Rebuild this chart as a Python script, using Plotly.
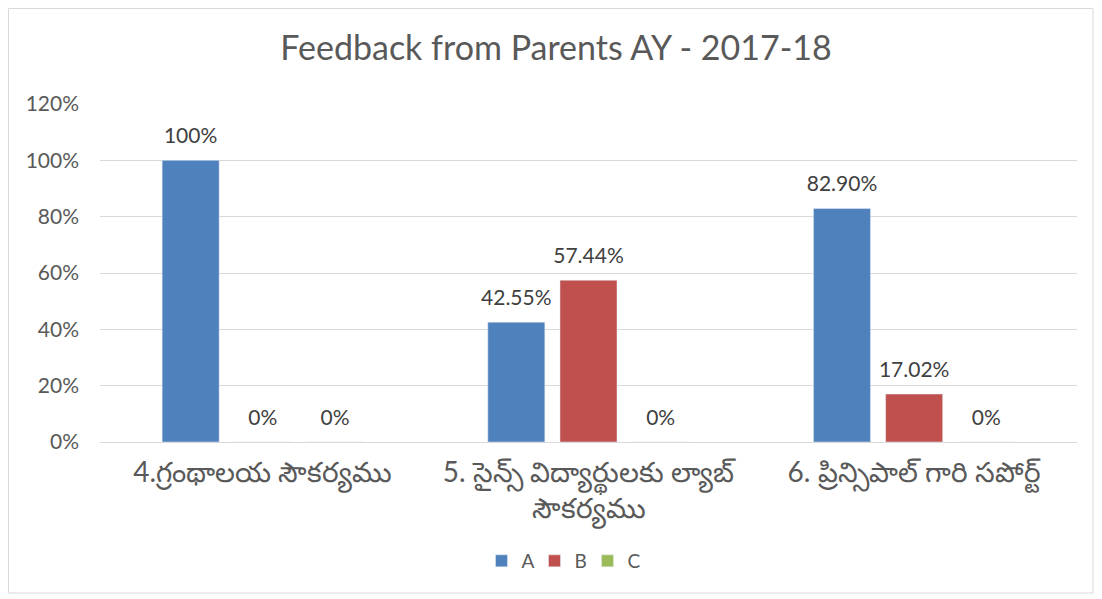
import plotly.graph_objects as go

categories = ["4.గ్రంథాలయ సౌకర్యము",
              "5. సైన్స్ విద్యార్థులకు ల్యాబ్<br>సౌకర్యము",
              "6. ప్రిన్సిపాల్ గారి సపోర్ట్"]
series_names = ["A", "B", "C"]
values_a = [1.00, 0.4255, 0.8290]
values_b = [0.0, 0.5744, 0.1702]
values_c = [0.0, 0.0, 0.0]
labels_a = ["100%", "42.55%", "82.90%"]
labels_b = ["0%", "57.44%", "17.02%"]
labels_c = ["0%", "0%", "0%"]
colors = ["#4F81BD", "#C0504D", "#9BBB59"]
y_ticks = [0, 0.2, 0.4, 0.6, 0.8, 1.0, 1.2]
y_tick_labels = ["0%", "20%", "40%", "60%", "80%", "100%", "120%"]

FONT = "Lato, 'Noto Sans', sans-serif"
GAP = 0.335

fig = go.Figure()
for name, vals, col in zip(series_names, [values_a, values_b, values_c], colors):
    fig.add_trace(go.Bar(
        x=categories, y=vals, name=name, marker_color=col,
        offsetgroup=name, hoverinfo="skip",
    ))
for name, vals, labs in zip(series_names, [values_a, values_b, values_c],
                            [labels_a, labels_b, labels_c]):
    fig.add_trace(go.Scatter(
        x=categories, y=vals, text=labs, mode="text+markers",
        marker=dict(size=18, opacity=0), offsetgroup=name,
        textposition="top center", showlegend=False, cliponaxis=False,
        textfont=dict(size=21, color="#404040", family=FONT), hoverinfo="skip",
    ))

W, H = 1094, 591
L, R, T, B = 92, 25, 96, 157
pw, ph = W - L - R, H - T - B

fig.update_layout(
    width=W, height=H,
    margin=dict(l=L, r=R, t=T, b=B),
    paper_bgcolor="white", plot_bgcolor="white",
    font=dict(family=FONT, color="#595959", size=21),
    title=dict(text="Feedback from Parents AY - 2017-18", x=(556 - 8) / W, xanchor="center",
               y=1 - 40 / H, yanchor="middle",
               font=dict(size=34, color="#595959", family=FONT)),
    barmode="group", bargap=GAP, bargroupgap=0.21,
    scattermode="group", scattergap=GAP,
    showlegend=True,
    legend=dict(orientation="h", x=(553 - L) / pw, xanchor="center",
                y=(T + ph - 553) / ph, yanchor="middle",
                font=dict(size=19, color="#595959", family=FONT),
                entrywidth=8, entrywidthmode="pixels", itemwidth=30,
                traceorder="normal"),
    yaxis=dict(range=[0, 1.2], tickvals=y_ticks, ticktext=y_tick_labels,
               showgrid=True, gridcolor="#D9D9D9", gridwidth=1,
               zeroline=False, showline=False, ticks="", ticklabelstandoff=20,
               tickfont=dict(size=21, color="#595959", family=FONT)),
    xaxis=dict(showline=True, linecolor="#D9D9D9", linewidth=1, ticks="",
               ticklabelstandoff=5,
               tickfont=dict(size=28, color="#595959", family=FONT)),
    shapes=[dict(type="rect", xref="paper", yref="paper",
                 x0=(0.5 - L) / pw, x1=(1085 - L) / pw,
                 y0=(T + ph - 585) / ph, y1=(T + ph - 0.5) / ph,
                 line=dict(color="#D9D9D9", width=1), fillcolor="rgba(0,0,0,0)",
                 layer="below")],
)

fig.write_html("out.html")
